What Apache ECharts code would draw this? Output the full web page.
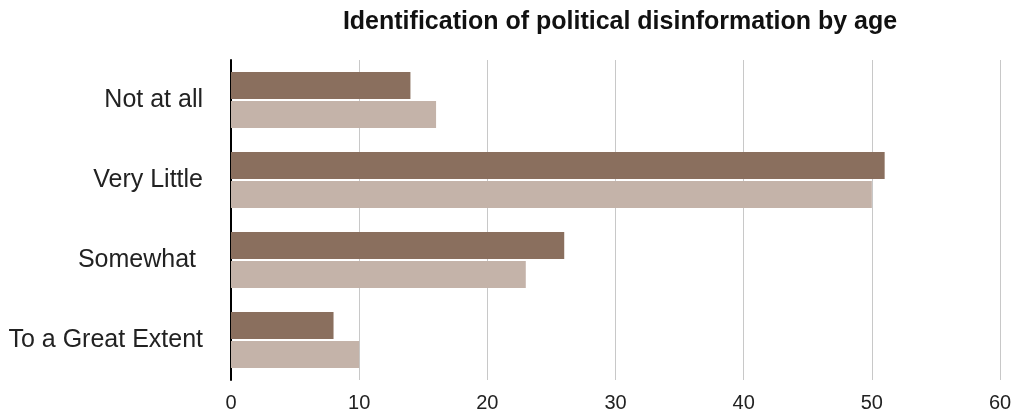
<!DOCTYPE html>
<html>
<head>
<meta charset="utf-8">
<script src="https://cdn.jsdelivr.net/npm/echarts@6/dist/echarts.min.js"></script>
<style>
  html, body { margin: 0; padding: 0; background: #fff; }
  #chart { width: 1015px; height: 414px; }
</style>
</head>
<body>
<div id="chart"></div>
<script>
// Survey answers, top to bottom
const categories = ['Not at all', 'Very Little', 'Somewhat ', 'To a Great Extent'];
// Percent of respondents per age group
const youngerGroup = [14, 51, 26, 8];
const olderGroup = [16, 50, 23, 10];
const xTicks = [0, 10, 20, 30, 40, 50, 60];

const chart = echarts.init(document.getElementById('chart'), null, { renderer: 'canvas' });
const font = 'Helvetica, "Liberation Sans", Arial, sans-serif';

chart.setOption({
  animation: false,
  backgroundColor: '#ffffff',
  title: {
    text: 'Identification of political disinformation by age',
    left: 615,
    top: 5,
    textAlign: 'center',
    textStyle: { fontFamily: font, fontSize: 25, fontWeight: 'bold', color: '#111' }
  },
  grid: { left: 231, right: 15, top: 60, bottom: 34, containLabel: false },
  xAxis: {
    type: 'value',
    min: xTicks[0],
    max: xTicks[xTicks.length - 1],
    interval: 10,
    axisLine: { show: false },
    axisTick: { show: false },
    axisLabel: { fontFamily: font, fontSize: 20, color: '#222', margin: 13 },
    splitLine: { show: true, lineStyle: { color: '#c8c8c8', width: 1 } }
  },
  yAxis: {
    type: 'category',
    inverse: true,
    data: categories,
    axisLine: { show: true, lineStyle: { color: '#000', width: 2 } },
    axisTick: { show: false },
    axisLabel: { fontFamily: font, fontSize: 25, color: '#222', margin: 28 }
  },
  series: [
    {
      name: 'Younger',
      type: 'bar',
      data: youngerGroup,
      barWidth: 27,
      barGap: '7%',
      itemStyle: { color: '#8a6f5e' }
    },
    {
      name: 'Older',
      type: 'bar',
      data: olderGroup,
      barWidth: 27,
      itemStyle: { color: '#c4b3a9' }
    }
  ]
});
</script>
</body>
</html>
